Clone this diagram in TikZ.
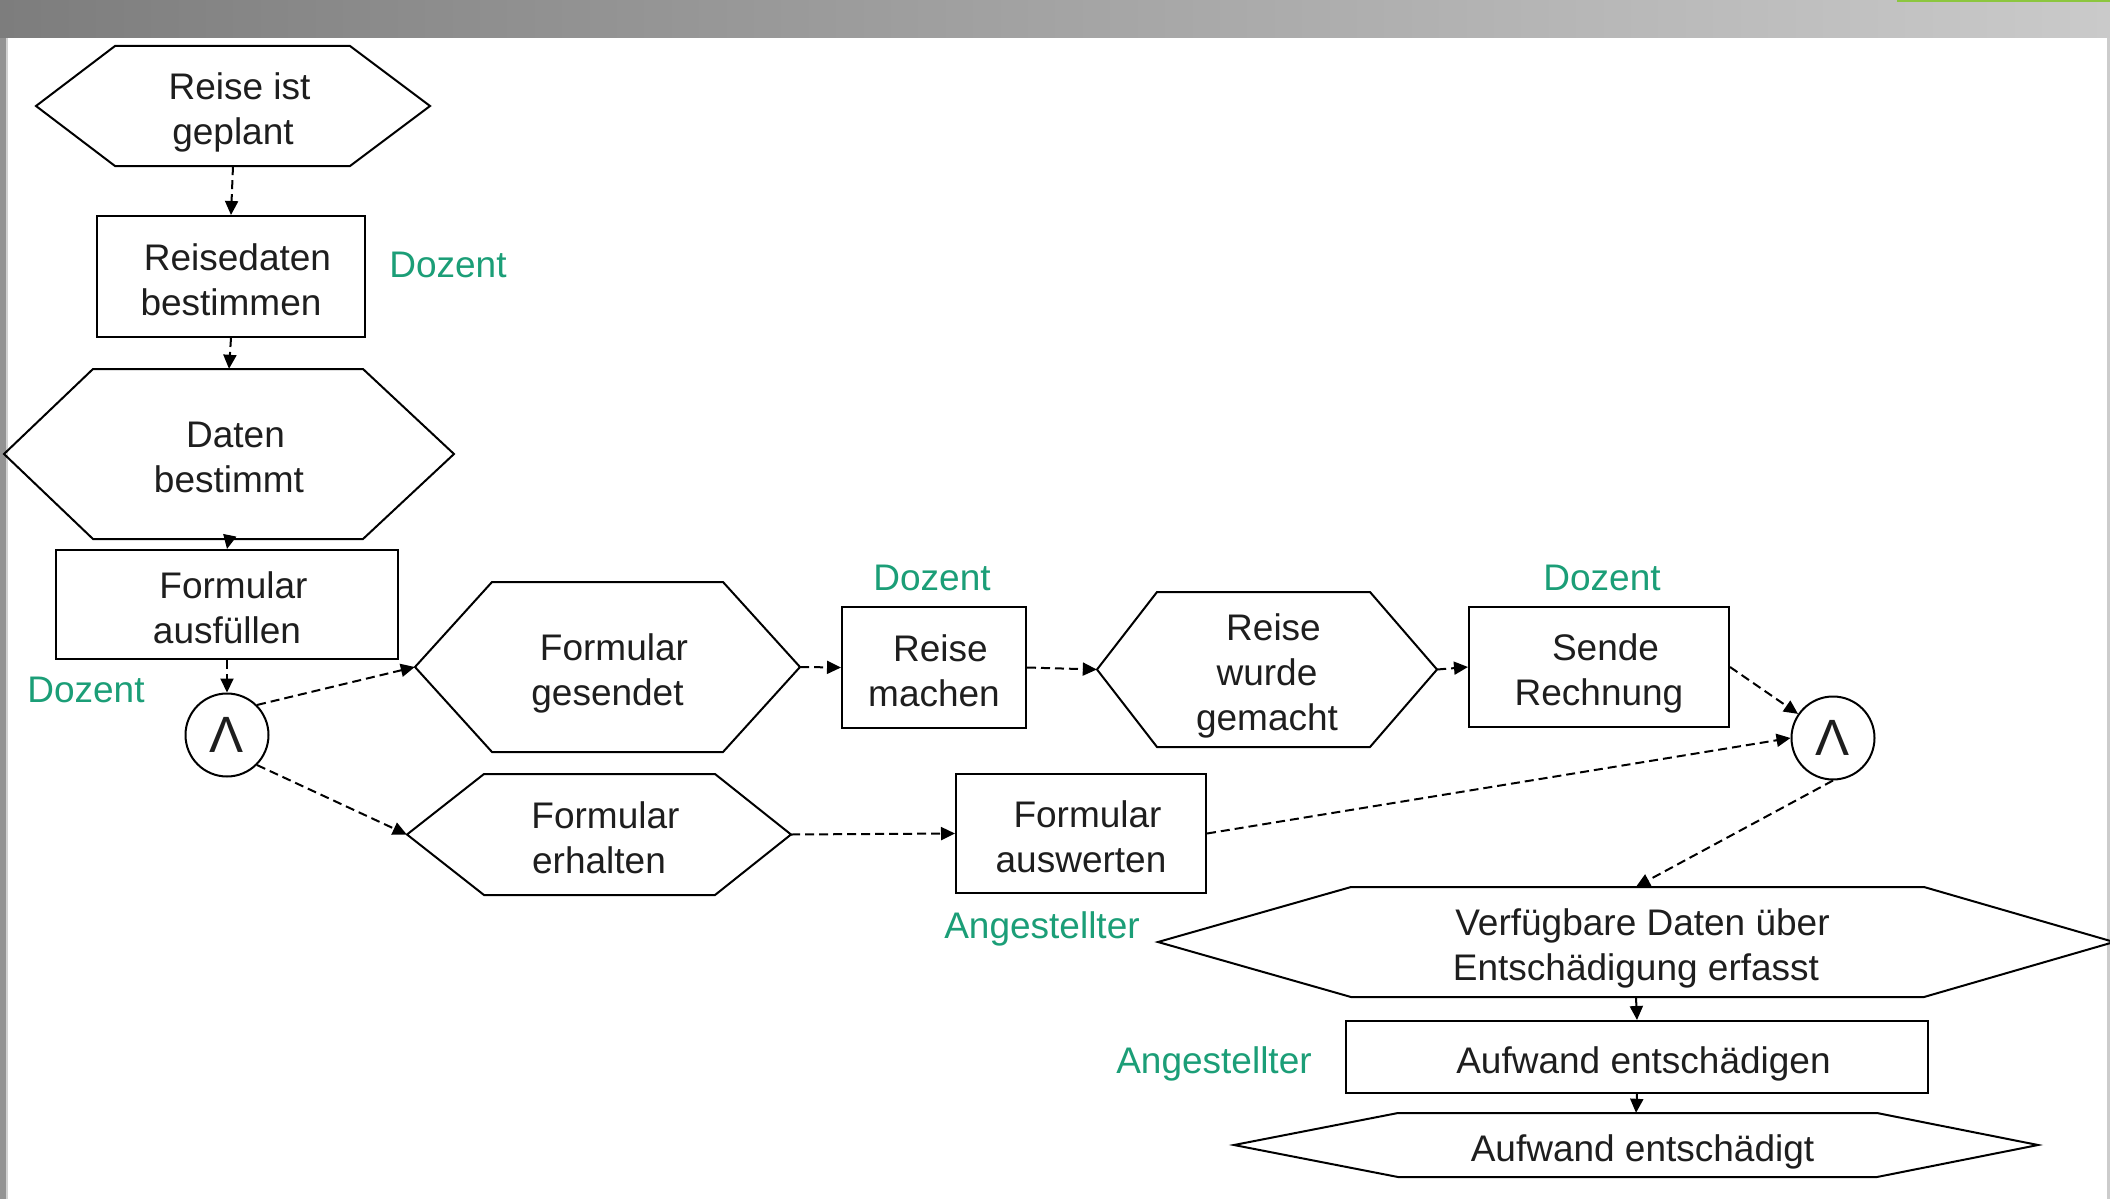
\documentclass[tikz,border=0pt]{standalone}
\usepackage{fontspec}
\setmainfont{Liberation Sans}
\usetikzlibrary{arrows.meta,calc}
\definecolor{rolegreen}{RGB}{27,158,119}
\definecolor{txt}{RGB}{30,30,30}
\definecolor{barL}{RGB}{125,125,125}
\definecolor{barR}{RGB}{202,202,202}
\definecolor{topgreen}{RGB}{140,198,63}
% text block: struts for even centring, lowered a little, first line nudged right
\newcommand{\tl}[1]{\raisebox{-7pt}[\height][\depth]{\begin{tabular}{@{}c@{}}\hspace*{13pt}#1\end{tabular}}}
\newcommand{\hexnode}[8]{%
  \node[hextext, minimum width={2*#4pt}, minimum height={2*#5pt}] (#1) at (#2,#3) {\tl{#8}};
  \draw[shapeline] ({#2-#4},#3) -- ({#2-#4+#6},{#3-#5}) -- ({#2+#4-#7},{#3-#5}) -- ({#2+#4},#3)
     -- ({#2+#4-#7},{#3+#5}) -- ({#2-#4+#6},{#3+#5}) -- cycle;}
\begin{document}
\begin{tikzpicture}[x=1pt,y=-1pt,
  shapeline/.style={line width=2pt, draw=black, line join=miter},
  hextext/.style={inner sep=0pt, text=txt, font=\fontsize{37}{45}\selectfont},
  stepbox/.style={draw=black, line width=2pt, inner sep=0pt, text=txt, font=\fontsize{37}{45}\selectfont},
  andnode/.style={circle, draw=black, line width=2pt, inner sep=0pt, minimum size=83pt, text=txt, font=\fontsize{51}{51}\selectfont},
  role/.style={text=rolegreen, inner sep=0pt, text depth=0pt, font=\fontsize{37}{45}\selectfont},
  conn/.style={line width=2pt, dash pattern=on 9pt off 5pt, -{Triangle[length=14pt,width=13pt]}}]
\useasboundingbox (0,0) rectangle (2110,1199);
\fill[white] (0,0) rectangle (2110,1199);
\shade[left color=barL, right color=barR] (0,0) rectangle (2110,38);
\fill[topgreen] (1897,0) rectangle (2110,2.5);
\fill[gray!85] (0,38) rectangle (6,1199);
\fill[gray!35] (6,38) rectangle (7.5,1199);
\fill[gray!40] (2107,38) rectangle (2110,1199);

% events (hexagons)
\hexnode{h1}{233}{106}{197}{60}{79}{80}{Reise ist\\geplant}
\hexnode{h2}{229}{454}{225}{85}{89}{91}{Daten\\bestimmt}
\hexnode{fg}{607.5}{667}{192.5}{85}{77}{77}{Formular\\gesendet}
\hexnode{fe}{599}{834.5}{192}{60.5}{77}{76}{Formular\\erhalten}
\hexnode{rg}{1267}{669.5}{170}{77.5}{60}{67}{Reise\\wurde\\gemacht}
\hexnode{vd}{1636}{942}{478}{55}{193}{190}{Verfügbare Daten über\\Entschädigung erfasst}
\hexnode{ae}{1636}{1145}{402}{32}{164}{161}{Aufwand entschädigt}

% functions (boxes)
\node[stepbox, minimum width=268pt, minimum height=121pt] (rb) at (231,276.5) {\tl{Reisedaten\\bestimmen}};
\node[stepbox, minimum width=342pt, minimum height=109pt] (fa) at (227,604.5) {\tl{Formular\\ausfüllen}};
\node[stepbox, minimum width=184pt, minimum height=121pt] (rm) at (934,667.5) {\tl{Reise\\machen}};
\node[stepbox, minimum width=260pt, minimum height=120pt] (sr) at (1599,667) {\tl{Sende\\Rechnung}};
\node[stepbox, minimum width=250pt, minimum height=119pt] (fw) at (1081,833.5) {\tl{Formular\\auswerten}};
\node[stepbox, minimum width=582pt, minimum height=72pt] (aw) at (1637,1057) {\tl{Aufwand entschädigen}};

% connectors (AND)
\node[andnode] (and1) at (227,735) {Λ};
\node[andnode] (and2) at (1833,738) {Λ};

% roles
\node[role] (d1) at (448,265) {Dozent};
\node[role] (d2) at (86,690) {Dozent};
\node[role] (d3) at (932,578) {Dozent};
\node[role] (d4) at (1602,578) {Dozent};
\node[role] (a1) at (1042,925) {Angestellter};
\node[role] (a2) at (1214,1060) {Angestellter};

% flow
\draw[conn] (h1.south) -- (rb.north);
\draw[conn] (rb.south) -- (h2.north);
\draw[conn] (h2.south) -- (fa.north);
\draw[conn] (fa.south) -- (and1.north);
\draw[conn] (and1.45) -- (fg.west);
\draw[conn] (and1.-45) -- (fe.west);
\draw[conn] (fg.east) -- (rm.west);
\draw[conn] (rm.east) -- (rg.west);
\draw[conn] (rg.east) -- (sr.west);
\draw[conn] (fe.east) -- (fw.west);
\draw[conn] (sr.east) -- (and2);
\draw[conn] (fw.east) -- (and2.west);
\draw[conn] (and2.south) -- (vd.north);
\draw[conn] (vd.south) -- (aw.north);
\draw[conn] (aw.south) -- (ae.north);
\end{tikzpicture}
\end{document}
